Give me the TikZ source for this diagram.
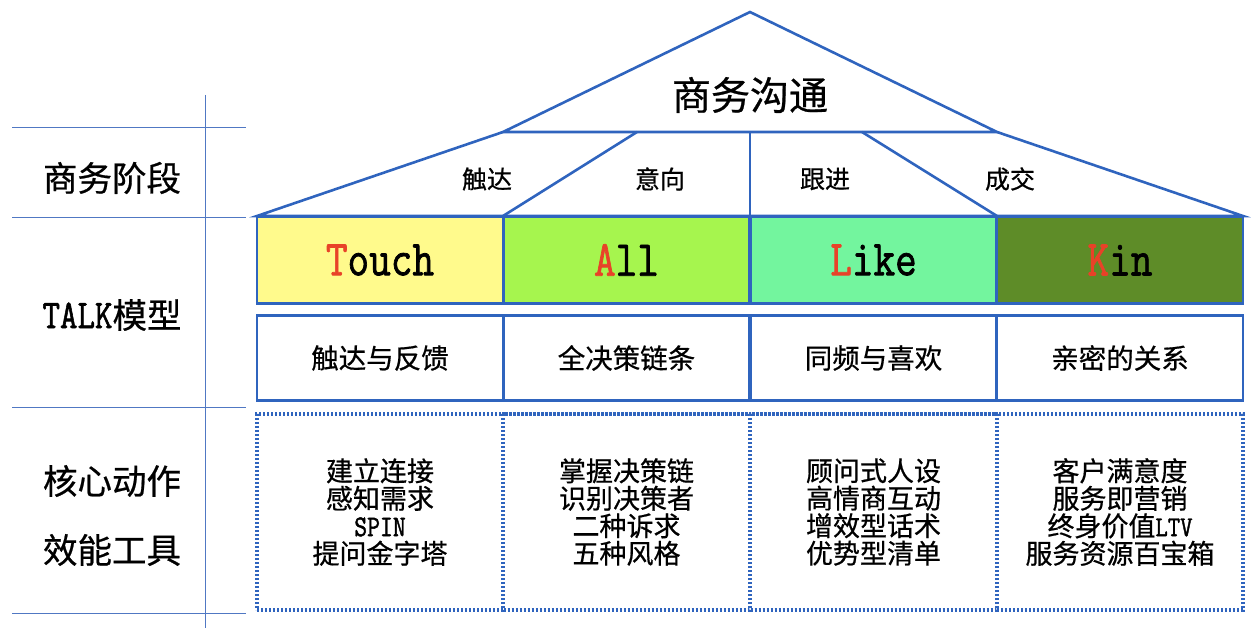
\documentclass[tikz,border=0pt]{standalone}
\usepackage{fontspec}
\usepackage{graphicx}
\newfontfamily\cjk{Noto Sans CJK SC}[FakeBold=0.6]
\newfontfamily\latmono{Latin Modern Mono}[FakeBold=1.6]
\definecolor{lineblue}{RGB}{47,100,190}
\definecolor{gridblue}{RGB}{80,120,195}
\definecolor{cT}{RGB}{255,250,140}
\definecolor{cA}{RGB}{166,245,78}
\definecolor{cL}{RGB}{115,245,158}
\definecolor{cK}{RGB}{94,140,40}
\definecolor{redL}{RGB}{232,66,40}
\newcommand{\lat}[1]{{\latmono\bfseries\scalebox{1}[1.2]{#1}}}
\newcommand{\talkword}[2]{\lat{\textcolor{redL}{#1}#2}}
\tikzset{
  roof/.style={draw=lineblue, line width=2.6pt, line join=miter},
  talkbox/.style={draw=lineblue, line width=2.6pt, minimum width=246pt, minimum height=87pt, inner sep=0pt,
     font=\fontsize{42}{42}\selectfont},
  meanbox/.style={draw=lineblue, line width=2.6pt, fill=white, minimum width=246pt, minimum height=85pt, inner sep=0pt,
     font=\cjk\fontsize{27.5}{27.5}\selectfont},
  dotbox/.style={draw=lineblue, line width=3.2pt, dash pattern=on 2.3pt off 1.7pt, minimum width=246pt, minimum height=196pt, inner sep=0pt},
  acttext/.style={align=center, font=\cjk\fontsize{27}{27.5}\selectfont, inner sep=0pt},
  stagetext/.style={font=\cjk\fontsize{25}{25}\selectfont, inner sep=0pt},
  lefttext/.style={font=\cjk\fontsize{34.5}{34.5}\selectfont, inner sep=0pt},
  grid/.style={draw=gridblue, line width=1pt}
}
\begin{document}
\begin{tikzpicture}[x=1pt,y=-1pt]
\useasboundingbox (0,0) rectangle (1252,628);
% left grid
\coordinate (g1a) at (12,128); \coordinate (g1b) at (246,128);
\coordinate (g2a) at (12,218); \coordinate (g2b) at (246,218);
\coordinate (g3a) at (12,407); \coordinate (g3b) at (246,407);
\coordinate (g4a) at (12,613); \coordinate (g4b) at (246,613);
\coordinate (gva) at (205,95); \coordinate (gvb) at (205,628);
\draw[grid] (g1a) -- (g1b);
\draw[grid] (g2a) -- (g2b);
\draw[grid] (g3a) -- (g3b);
\draw[grid] (g4a) -- (g4b);
\draw[grid] (gva) -- (gvb);
\node[lefttext] (l1) at (112,178) {商务阶段};
\node[lefttext] (l2) at (112,315) {{\fontsize{34}{34}\selectfont\lat{TALK}}模型};
\node[lefttext] (l3) at (112,481) {核心动作};
\node[lefttext] (l4) at (112,550) {效能工具};
% roof
\coordinate (apex) at (750,12);
\coordinate (bl) at (503,132);
\coordinate (br) at (997,132);
\coordinate (bm) at (750,132);
\coordinate (il) at (637,132);
\coordinate (ir) at (862,132);
\coordinate (el) at (257,216);
\coordinate (e2) at (503,216);
\coordinate (e3) at (750,216);
\coordinate (e4) at (997,216);
\coordinate (er) at (1243,216);
\draw[roof] (bl) -- (apex) -- (br) -- cycle;
\draw[roof] (bl) -- (el) -- (er) -- (br);
\draw[roof] (e2) -- (il);
\draw[roof] (bm) -- (e3);
\draw[roof] (ir) -- (e4);
\node[font=\cjk\fontsize{39}{39}\selectfont, inner sep=0pt] (title) at (750,95) {商务沟通};
\node[stagetext] (s1) at (487,179) {触达};
\node[stagetext] (s2) at (660,179) {意向};
\node[stagetext] (s3) at (825,179) {跟进};
\node[stagetext] (s4) at (1010,179) {成交};
% TALK row
\node[talkbox, fill=cT] (t1) at (380,260) {\talkword{T}{ouch}};
\node[talkbox, fill=cA] (t2) at (626.5,260) {\talkword{A}{ll}};
\node[talkbox, fill=cL] (t3) at (873.5,260) {\talkword{L}{ike}};
\node[talkbox, fill=cK] (t4) at (1120,260) {\talkword{K}{in}};
% meaning row
\node[meanbox] (m1) at (380,358) {触达与反馈};
\node[meanbox] (m2) at (626.5,358) {全决策链条};
\node[meanbox] (m3) at (873.5,358) {同频与喜欢};
\node[meanbox] (m4) at (1120,358) {亲密的关系};
% action row
\node[dotbox] (d1) at (380,512) {};
\node[dotbox] (d2) at (626.5,512) {};
\node[dotbox] (d3) at (873.5,512) {};
\node[dotbox] (d4) at (1120,512) {};
\node[acttext] (a1) at (d1) {建立连接\\感知需求\\{\fontsize{25}{27.5}\selectfont\lat{SPIN}}\\提问金字塔};
\node[acttext] (a2) at (d2) {掌握决策链\\识别决策者\\二种诉求\\五种风格};
\node[acttext] (a3) at (d3) {顾问式人设\\高情商互动\\增效型话术\\优势型清单};
\node[acttext] (a4) at (d4) {客户满意度\\服务即营销\\终身价值{\fontsize{24}{27.5}\selectfont\lat{LTV}}\\服务资源百宝箱};
\end{tikzpicture}
\end{document}
